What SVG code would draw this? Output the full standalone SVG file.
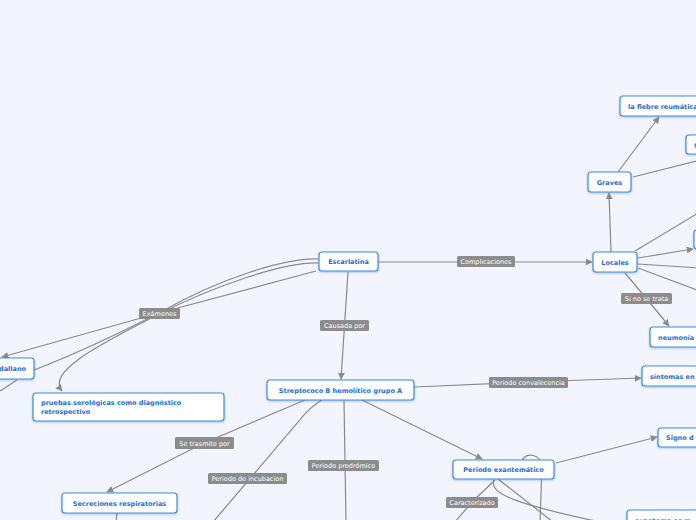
<svg xmlns="http://www.w3.org/2000/svg" width="696" height="520" viewBox="0 0 696 520">
<defs>
<marker id="arr" viewBox="0 0 10 10" refX="9" refY="5" markerWidth="7" markerHeight="7" orient="auto-start-reverse" markerUnits="userSpaceOnUse"><path d="M0,0 L10,5 L0,10 z" fill="#8a8a8a"/></marker>
<filter id="sh" x="-20%" y="-20%" width="140%" height="160%"><feDropShadow dx="0" dy="1" stdDeviation="0.8" flood-color="#2a6fc9" flood-opacity="0.35"/></filter>
<style>
.n rect{fill:#ffffff;stroke:#3f8be6;stroke-width:1.2;filter:url(#sh)}
.n text{font-family:"DejaVu Sans",Verdana,sans-serif;font-weight:bold;font-size:6.5px;fill:#1c6fd6}
.c path,.c line{stroke:#8a8a8a;stroke-width:1.2;fill:none}
.a{marker-end:url(#arr)}
.l rect{fill:#8c8c8c}
.l text{font-family:"DejaVu Sans",Verdana,sans-serif;font-size:6.5px;fill:#ffffff;text-anchor:middle}
</style>
</defs>
<rect width="696" height="520" fill="#f2f5fd"/>
<g id="connectors" class="c">
<line x1="378" y1="262" x2="592" y2="262" class="a"/>
<line x1="348" y1="272" x2="341" y2="379" class="a"/>
<path d="M316,271 L159,313 L2,357" class="a"/>
<path d="M318,259 C285,258 220,278 159,313 C110,338 60,360 34,370"/>
<path d="M318,263 C285,262 215,285 155,316 C110,340 45,370 62,391" class="a"/>
<path d="M17,380 L0,391"/>
<line x1="611" y1="252" x2="609" y2="193" class="a"/>
<line x1="618" y1="172" x2="659" y2="117" class="a"/>
<line x1="633" y1="177" x2="720" y2="155"/>
<line x1="635" y1="251" x2="700" y2="212"/>
<line x1="638" y1="258" x2="693" y2="249" class="a"/>
<line x1="638" y1="264" x2="700" y2="268"/>
<line x1="638" y1="268" x2="700" y2="291"/>
<path d="M625,273 L646,298 L669,326" class="a"/>
<path d="M414,387 L528,382 L641,378" class="a"/>
<line x1="362" y1="400" x2="482" y2="459" class="a"/>
<path d="M305,400 L204,443 L107,492" class="a"/>
<path d="M322,400 C312,406 305,413 299,421 L213,522"/>
<line x1="344" y1="400" x2="346" y2="522"/>
<line x1="556" y1="463" x2="657" y2="437" class="a"/>
<path d="M495,480 L472,502 L455,522"/>
<path d="M522,461 C525,452 540,453 542,466 L540,522"/>
<line x1="498" y1="479" x2="553" y2="522"/>
<path d="M494,480 C488,494 520,505 600,522"/>
<line x1="117" y1="513" x2="116" y2="522"/>
</g>
<g class="l">
<g id="lbl-complicaciones"><rect x="457" y="256" width="58" height="11" rx="1.5"/><text x="486" y="264.3">Complicaciones</text></g>
<g id="lbl-examenes"><rect x="139" y="308" width="41" height="11" rx="1.5"/><text x="159.5" y="316.3">Exámenes</text></g>
<g id="lbl-causada"><rect x="320" y="320" width="49" height="11" rx="1.5"/><text x="344.5" y="328.3">Causada por</text></g>
<g id="lbl-sinotrata"><rect x="621" y="293" width="51" height="11" rx="1.5"/><text x="646.5" y="301.3">Si no se trata</text></g>
<g id="lbl-convalecencia"><rect x="489" y="377" width="79" height="11" rx="1.5"/><text x="528.5" y="385.3">Periodo convalecencia</text></g>
<g id="lbl-trasmite"><rect x="175" y="437" width="59" height="12" rx="1.5"/><text x="204.5" y="445.8">Se trasmite por</text></g>
<g id="lbl-incubacion"><rect x="208" y="473" width="79" height="11" rx="1.5"/><text x="247.5" y="481.3">Periodo de incubacion</text></g>
<g id="lbl-prodromico"><rect x="308" y="460" width="71" height="11" rx="1.5"/><text x="343.5" y="468.3">Periodo prodrómico</text></g>
<g id="lbl-caracterizado"><rect x="446" y="497" width="52" height="11" rx="1.5"/><text x="472" y="505.3">Caracterizado</text></g>
</g>
<g id="escarlatina" class="n"><rect x="319" y="252" width="59" height="19" rx="3"/><text x="348.5" y="264.3" text-anchor="middle">Escarlatina</text></g>
<g id="locales" class="n"><rect x="593" y="252" width="44" height="20" rx="3"/><text x="615" y="264.5" text-anchor="middle">Locales</text></g>
<g id="graves" class="n"><rect x="588" y="172" width="43" height="20" rx="3"/><text x="609.5" y="184.5" text-anchor="middle">Graves</text></g>
<g id="fiebre" class="n"><rect x="620" y="96" width="90" height="20" rx="3"/><text x="628" y="108.5">la fiebre reumática</text></g>
<g id="glomerulo" class="n"><rect x="686" y="135" width="80" height="19" rx="3"/><text x="694" y="147">glomerulonefritis</text></g>
<g id="local2" class="n"><rect x="694" y="230" width="60" height="19" rx="3"/></g>
<g id="neumonia" class="n"><rect x="650" y="327" width="70" height="20" rx="3"/><text x="658" y="339.5">neumonía</text></g>
<g id="sintomas" class="n"><rect x="642" y="366" width="80" height="20" rx="3"/><text x="650" y="378.5">síntomas en</text></g>
<g id="signo" class="n"><rect x="658" y="428" width="60" height="19" rx="3"/><text x="666" y="440">Signo d</text></g>
<g id="exantema" class="n"><rect x="627" y="510" width="100" height="20" rx="3"/><text x="635" y="522.5">exantema es m</text></g>
<g id="streptococo" class="n"><rect x="267" y="380" width="147" height="20" rx="3"/><text x="340.5" y="392.5" text-anchor="middle">Streptococo B hemolítico grupo A</text></g>
<g id="pruebas" class="n"><rect x="33" y="393" width="191" height="28" rx="3"/><text x="41" y="405">pruebas serológicas como diagnóstico</text><text x="41" y="414">retrospectivo</text></g>
<g id="exantematico" class="n"><rect x="453" y="460" width="101" height="19" rx="3"/><text x="503.5" y="472" text-anchor="middle">Periodo exantemático</text></g>
<g id="secreciones" class="n"><rect x="62" y="493" width="115" height="20" rx="3"/><text x="119.5" y="505.5" text-anchor="middle">Secreciones respiratorias</text></g>
<g id="dallano" class="n"><rect x="-20" y="358" width="54" height="21" rx="3"/><text x="26" y="371" text-anchor="end">dallano</text></g>
</svg>
